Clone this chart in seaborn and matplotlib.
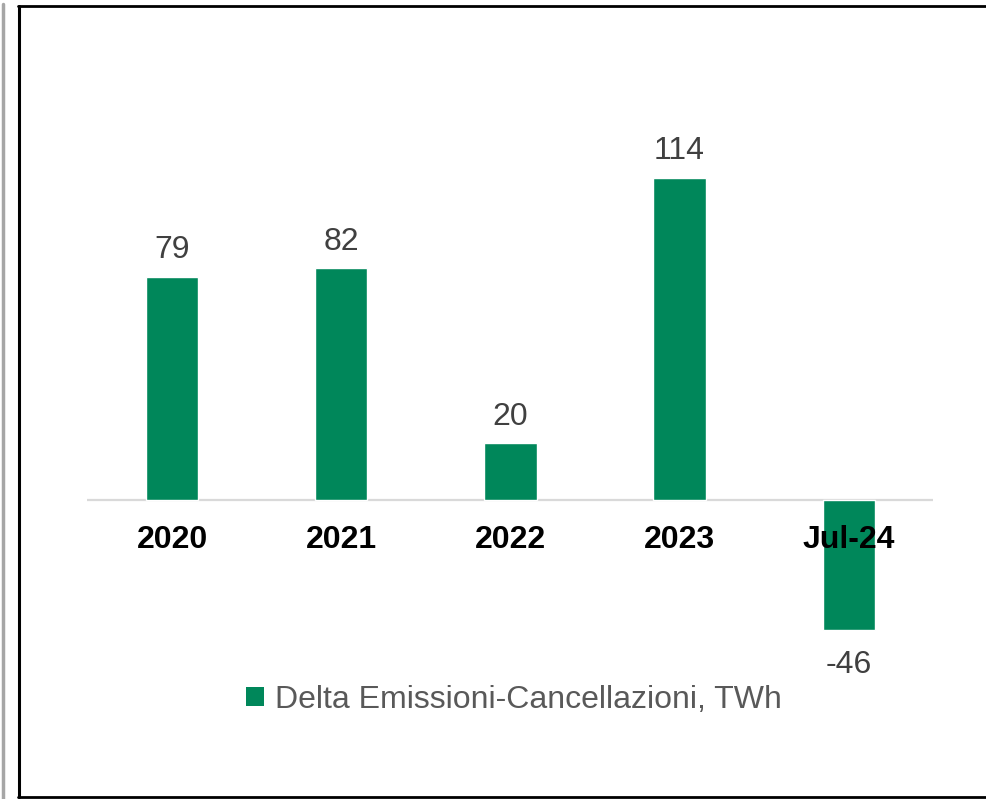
import pandas as pd
import matplotlib
matplotlib.use("Agg")
import matplotlib.pyplot as plt
import seaborn as sns
from matplotlib.lines import Line2D
from matplotlib.patches import Patch

# Data
categories = ['2020', '2021', '2022', '2023', 'Jul-24']
values = [79, 82, 20, 114, -46]
series_name = 'Delta Emissioni-Cancellazioni, TWh'

df = pd.DataFrame({'Anno': categories, 'Valore': values})

sns.set_style('white')
plt.rcParams['font.family'] = ['Liberation Sans', 'DejaVu Sans']

bar_color = '#00875A'
W, H = 987, 799
fig = plt.figure(figsize=(W / 100, H / 100), dpi=100)

# axes placed so the bars land where they are in the reference
ax = fig.add_axes([87.4 / W, 1 - 698 / H, 846 / W, 594 / H])
sns.barplot(data=df, x='Anno', y='Valore', color=bar_color, width=0.31,
            saturation=1, ax=ax, zorder=1)
ax.set_xlim(-0.5, 4.5)
ax.set_ylim(-70, 140)
ax.axhline(0, color='#D9D9D9', lw=1.6, zorder=0.5)
ax.set_xticks([])
ax.set_yticks([])
ax.set_xlabel('')
ax.set_ylabel('')
for s in ax.spines.values():
    s.set_visible(False)
ax.patch.set_alpha(0)

# value labels and category labels
for i, v in enumerate(values):
    if v >= 0:
        ax.annotate(str(v), (i, v), textcoords='offset points', xytext=(0, 8),
                    ha='center', va='bottom', fontsize=23, color='#404040')
    else:
        ax.annotate(str(v), (i, v), textcoords='offset points', xytext=(0, -14),
                    ha='center', va='top', fontsize=23, color='#404040')
    ax.annotate(categories[i], (i, 0), textcoords='offset points', xytext=(0, -29),
                ha='center', va='center', fontsize=23, fontweight='bold',
                color='black', zorder=5)

# legend
handle = Patch(facecolor=bar_color, edgecolor='none')
fig.legend([handle], [series_name], loc='center',
           bbox_to_anchor=(514 / W, 1 - 700 / H), frameon=False,
           fontsize=23, labelcolor='#595959', handlelength=0.55, handleheight=0.55,
           handletextpad=0.35)

# outer frame
fig.add_artist(Line2D([19 / W, 19 / W], [1 - 6 / H, 1 - 797 / H], color='black', lw=2.2))
fig.add_artist(Line2D([18 / W, 1], [1 - 6 / H, 1 - 6 / H], color='black', lw=2.0))
fig.add_artist(Line2D([18 / W, 1], [1 - 796.5 / H, 1 - 796.5 / H], color='black', lw=2.0))
fig.add_artist(Line2D([3 / W, 3 / W], [1 - 4 / H, 0], color='#A6A6A6', lw=2.5))

fig.savefig('out.png', dpi=100)
